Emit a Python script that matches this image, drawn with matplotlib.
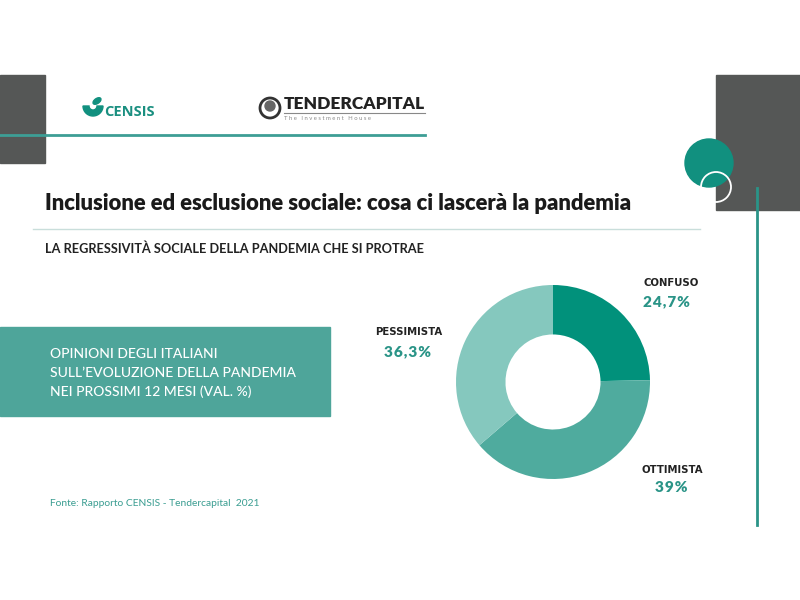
import matplotlib.pyplot as plt
from matplotlib.patches import Rectangle, Circle, Wedge, Ellipse

# data
categories = ['CONFUSO', 'OTTIMISTA', 'PESSIMISTA']
values = [24.7, 39.0, 36.3]
colors = ['#01917b', '#4fab9e', '#85c8be']

title = 'Inclusione ed esclusione sociale: cosa ci lascerà la pandemia'
subtitle = 'LA REGRESSIVITÀ SOCIALE DELLA PANDEMIA CHE SI PROTRAE'
box_lines = ['OPINIONI DEGLI ITALIANI',
             'SULL\u2019EVOLUZIONE DELLA PANDEMIA',
             'NEI PROSSIMI 12 MESI (VAL. %)']
source = 'Fonte: Rapporto CENSIS - Tendercapital  2021'

gray = '#555756'

plt.rcParams['font.family'] = ['Lato', 'DejaVu Sans']

fig = plt.figure(figsize=(8, 6), dpi=100)
fig.patch.set_facecolor('white')

# background layer in pixel coordinates
bg = fig.add_axes([0, 0, 1, 1])
bg.set_xlim(0, 800)
bg.set_ylim(600, 0)
bg.axis('off')

bg.add_patch(Rectangle((0, 75), 45, 88, color=gray, zorder=1))
bg.plot([0, 425], [135, 135], color='#3d9e95', lw=2, zorder=2)
bg.add_patch(Rectangle((716, 75), 84, 135, color=gray, zorder=1))
bg.add_patch(Circle((709, 163), 24, color='#11907f', zorder=2))
bg.add_patch(Circle((716, 187), 15, fill=False, ec='white', lw=1.3, zorder=3))
bg.plot([757, 757], [188, 525], color='#2a9488', lw=2, zorder=2)

# logos
bg.add_patch(Wedge((93, 106), 10, 0, 180, width=6, color='#11907f', zorder=3))
bg.add_patch(Ellipse((97, 101), 9, 5, angle=-35, color='#11907f', zorder=3))
bg.text(104, 112, 'CENSIS', color='#1a8f80', fontsize=10.5, fontweight='bold',
        ha='left', va='center', family=['Open Sans', 'DejaVu Sans'])
bg.add_patch(Circle((270, 108), 10, fill=False, ec='#333333', lw=2, zorder=3))
bg.add_patch(Circle((270, 106), 5, color='#666666', zorder=3))
bg.text(284, 104, 'TENDERCAPITAL', color='#222222', fontsize=12.5, fontweight='heavy',
        ha='left', va='center')
bg.plot([284, 425], [113, 113], color='#888888', lw=0.8)
bg.text(284, 119, 'T h e   I n v e s t m e n t   H o u s e', color='#888888',
        fontsize=4.2, ha='left', va='center')

# titles
bg.text(45, 203, title, fontsize=15.8, fontweight='heavy', color='#1a1a1a',
        ha='left', va='center')
bg.plot([33, 700], [229, 229], color='#c9dedb', lw=1)
bg.text(45, 249, subtitle, fontsize=9.2, fontweight='bold', color='#222222',
        ha='left', va='center')

# teal box
bg.add_patch(Rectangle((0, 327), 330, 89, color='#4ea59a', zorder=1))
for i, line in enumerate(box_lines):
    bg.text(50, 354 + i * 19, line, fontsize=10, fontweight='medium', color='white',
            ha='left', va='center', zorder=2)

bg.text(50, 504, source, fontsize=7.4, color='#3a9d91', ha='left', va='center')

# donut
cx, cy, r = 553, 382, 97
ax = fig.add_axes([(cx - r) / 800, (600 - cy - r) / 600, 2 * r / 800, 2 * r / 600])
ax.pie(values, colors=colors, startangle=90, counterclock=False,
       wedgeprops=dict(width=0.51, linewidth=0))
ax.set_xlim(-1, 1)
ax.set_ylim(-1, 1)
ax.set_aspect('equal')
ax.axis('off')

# labels
name_pos = [(671, 283), (672, 470), (409, 332)]
value_pos = [(666, 302), (671, 488), (408, 352)]
for name, val, (nx, ny), (vx, vy) in zip(categories, values, name_pos, value_pos):
    txt = f'{val:.1f}'.replace('.', ',').replace(',0', '') + '%'
    bg.text(nx, ny, name, fontsize=7.3, fontweight='bold', color='#222222',
            ha='center', va='center', family='DejaVu Sans')
    bg.text(vx, vy, '\u200a'.join(txt), fontsize=11, fontweight='heavy',
            color='#2a9487', ha='center', va='center')

fig.savefig('out.png', dpi=100)
